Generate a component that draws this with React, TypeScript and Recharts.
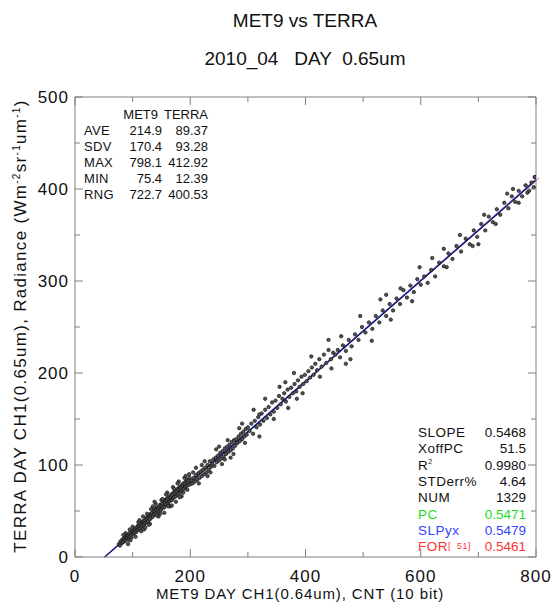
import React from 'react';
import { ScatterChart, Scatter, XAxis, YAxis, ReferenceLine } from 'recharts';

const FONT = '"Liberation Sans", Arial, Helvetica, sans-serif';

// MET9 counts (x) vs TERRA radiance (y)
const lowPts: [number, number][] = [
  [76, 14], [78, 12.4], [79, 17], [81, 15], [82, 19], [83, 16], [85, 20], [86, 17], [87, 22], [88, 18],
  [89, 21], [90, 24], [91, 20], [92, 23], [93, 19], [94, 25], [95, 22], [96, 27], [97, 24], [98, 21],
  [99, 28], [100, 25], [101, 27], [102, 30], [103, 26], [104, 29], [105, 31], [106, 27], [107, 32], [108, 29],
  [109, 34], [110, 30], [111, 33], [112, 35], [113, 31], [114, 36], [115, 33], [116, 38], [117, 34], [118, 37],
  [119, 39], [120, 35], [121, 40], [122, 37], [123, 42], [124, 38], [125, 41], [126, 44], [127, 39], [128, 43],
  [129, 46], [130, 41], [131, 45], [132, 47], [133, 43], [134, 48], [135, 44], [136, 50], [137, 46], [138, 49],
  [139, 52], [140, 47], [141, 51], [142, 54], [143, 48], [144, 53], [145, 50], [146, 55], [147, 52], [148, 57],
  [149, 51], [150, 56], [151, 53], [152, 58], [153, 55], [154, 60], [155, 54], [156, 59], [157, 62], [158, 57],
  [159, 61], [160, 64], [161, 58], [162, 63], [163, 60], [164, 66], [165, 61], [166, 65], [167, 68], [168, 62],
  [169, 67], [170, 64], [171, 70], [172, 65], [173, 69], [174, 72], [175, 66], [176, 71], [177, 68], [178, 74],
  [179, 69], [180, 73], [181, 76], [182, 70], [183, 75], [184, 72], [185, 78], [186, 73], [187, 77], [188, 80],
  [189, 74], [190, 79], [191, 76], [192, 82], [193, 77], [194, 81], [195, 84], [196, 78], [197, 83], [198, 80],
  [199, 86], [200, 79],
  [95, 30], [105, 22], [110, 38], [120, 30], [125, 47], [130, 36], [140, 58], [145, 44], [150, 62], [155, 48],
  [160, 70], [165, 55], [170, 76], [175, 60], [180, 82], [185, 66], [190, 86], [195, 73], [100, 33], [115, 28],
  [135, 55], [88, 26], [92, 14], [118, 44], [128, 35], [138, 60], [148, 47], [158, 68], [168, 56], [178, 80],
  [188, 70], [198, 90], [112, 40], [122, 32], [132, 52], [142, 45], [152, 63], [162, 55], [172, 74], [182, 65],
  [192, 88], [84, 24], [96, 18],
];

const midPts: [number, number][] = [
  [202, 83], [204, 80], [206, 86], [208, 82], [210, 89], [212, 84], [214, 91], [216, 86], [218, 93], [220, 88],
  [222, 95], [224, 90], [226, 97], [228, 92], [230, 100], [232, 95], [234, 104], [236, 98], [238, 101], [240, 106],
  [242, 99], [244, 108], [246, 103], [248, 110], [250, 105], [252, 113], [254, 107], [256, 115], [258, 109], [260, 118],
  [262, 112], [264, 120], [266, 114], [268, 122], [270, 116], [272, 125], [274, 118], [276, 127], [278, 121], [280, 128],
  [282, 124], [284, 131], [286, 126], [288, 134], [290, 128], [292, 136], [294, 131], [296, 139], [298, 133], [300, 141],
  [205, 92], [215, 80], [225, 104], [235, 92], [245, 117], [255, 101], [265, 127], [275, 112], [285, 140], [295, 124],
  [210, 97], [230, 88], [250, 120], [270, 108], [290, 145], [220, 100], [260, 106],
];

const upperPts: [number, number][] = [
  [303, 137], [306, 145], [309, 134], [312, 148], [315, 141], [318, 152], [321, 144], [324, 156], [327, 148], [330, 160],
  [333, 151], [336, 163], [339, 155], [342, 168], [345, 158], [348, 170], [351, 162], [354, 175], [357, 166], [360, 172],
  [363, 178], [366, 169], [369, 182], [372, 174], [375, 184], [378, 178], [381, 188], [384, 180], [387, 192], [390, 185],
  [393, 196], [396, 188], [399, 198], [402, 191], [405, 202], [408, 195], [411, 206], [414, 198], [417, 210], [420, 203],
  [424, 215], [428, 207], [432, 220], [436, 211], [440, 225], [444, 215], [448, 222],
  [310, 160], [320, 131], [330, 172], [345, 150], [355, 185], [370, 162], [380, 200], [395, 178], [410, 218], [425, 196],
  [440, 236], [445, 205], [320, 155], [365, 190], [385, 172],
];

const highPts: [number, number][] = [
  [452, 220], [456, 225], [460, 217], [465, 230], [470, 224], [475, 236], [480, 229], [486, 242], [492, 236], [498, 250],
  [504, 244], [510, 255], [516, 248], [522, 262], [528, 255], [534, 268], [540, 262], [546, 275], [552, 268], [558, 281],
  [564, 275], [570, 290], [576, 282], [582, 295], [588, 288], [594, 302], [600, 296],
  [462, 240], [478, 215], [495, 262], [515, 235], [530, 280], [548, 258], [565, 292], [585, 278], [598, 315], [470, 210],
  [540, 285],
  [606, 305], [612, 298], [618, 312], [625, 305], [632, 320], [640, 316], [648, 330], [655, 324], [662, 338], [670, 332],
  [678, 346], [685, 340], [692, 355], [698, 348], [705, 362], [712, 355], [718, 370], [725, 364], [732, 378], [738, 372],
  [745, 385], [752, 379], [758, 392], [764, 386], [770, 398], [776, 392], [782, 404], [788, 398], [792, 407], [796, 402],
  [798, 413], [798.1, 412.9],
  [620, 325], [645, 315], [668, 350], [690, 338], [710, 372], [730, 362], [750, 395], [770, 385], [785, 396], [760, 400],
  [640, 335], [700, 340],
];

// fit lines (endpoints)
const fitFor = [{ x: 51, y: 0 }, { x: 805, y: 411.8 }];
const fitSlpyx = [{ x: 51.5, y: 0 }, { x: 800, y: 410.1 }];
const fitSlope = [{ x: 51.5, y: 0 }, { x: 800, y: 409.3 }];

const xTicks = [0, 100, 200, 300, 400, 500, 600, 700, 800];
const yTicks = [0, 50, 100, 150, 200, 250, 300, 350, 400, 450, 500];

const statHead = ['MET9', 'TERRA'];
const statNames = ['AVE', 'SDV', 'MAX', 'MIN', 'RNG'];
const statMet9 = ['214.9', '170.4', '798.1', '75.4', '722.7'];
const statTerra = ['89.37', '93.28', '412.92', '12.39', '400.53'];

const fitNames = ['SLOPE', 'XoffPC', 'R', 'STDerr%', 'NUM', 'PC', 'SLPyx', 'FOR'];
const fitValues = ['0.5468', '51.5', '0.9980', '4.64', '1329', '0.5471', '0.5479', '0.5461'];
const fitColors = ['#111', '#111', '#111', '#111', '#111', '#22dd22', '#3344ff', '#ff3333'];

const points = [...lowPts, ...midPts, ...upperPts, ...highPts].map(([x, y]) => ({ x, y }));

const AX = '#808080';

const makeTick = (side: 'bottom' | 'top' | 'left' | 'right', major: number) => (props: any) => {
  const { x, y, payload } = props;
  const v = payload.value;
  const isMajor = v % major === 0;
  const len = isMajor ? 8 : 5;
  if (side === 'bottom') {
    return (
      <g>
        <line x1={x} y1={y} x2={x} y2={y - len} stroke={AX} />
        {isMajor && (
          <text x={x} y={y + 25} textAnchor="middle" fontSize={17} letterSpacing={1} fontFamily={FONT} fill="#111">{v}</text>
        )}
      </g>
    );
  }
  if (side === 'top') return <line x1={x} y1={y} x2={x} y2={y + len} stroke={AX} />;
  if (side === 'left') {
    return (
      <g>
        <line x1={x} y1={y} x2={x + len} y2={y} stroke={AX} />
        {isMajor && (
          <text x={x - 6} y={y + 6} textAnchor="end" fontSize={17} letterSpacing={1} fontFamily={FONT} fill="#111">{v}</text>
        )}
      </g>
    );
  }
  return <line x1={x} y1={y} x2={x - len} y2={y} stroke={AX} />;
};

const Dot = (props: any) => (
  <circle cx={props.cx} cy={props.cy} r={1.7} fill="#555" stroke="#111" strokeWidth={0.7} />
);

export default function App() {
  return (
    <div style={{ position: 'absolute', left: 0, top: 0, width: 552, height: 604, background: '#fff' }}>
      <ScatterChart width={552} height={604} margin={{ top: 96, right: 15, bottom: 46, left: 74 }}>
        <XAxis xAxisId="b" type="number" dataKey="x" domain={[0, 800]} ticks={xTicks} interval={0}
          height={1} tickSize={0} tickMargin={0} tickLine={false} axisLine={{ stroke: AX }}
          tick={makeTick('bottom', 200)} allowDataOverflow />
        <XAxis xAxisId="t" orientation="top" type="number" dataKey="x" domain={[0, 800]} ticks={xTicks} interval={0}
          height={1} tickSize={0} tickMargin={0} tickLine={false} axisLine={{ stroke: AX }}
          tick={makeTick('top', 200)} allowDataOverflow />
        <YAxis yAxisId="l" type="number" dataKey="y" domain={[0, 500]} ticks={yTicks} interval={0}
          width={1} tickSize={0} tickMargin={0} tickLine={false} axisLine={{ stroke: AX }}
          tick={makeTick('left', 100)} allowDataOverflow />
        <YAxis yAxisId="r" orientation="right" type="number" dataKey="y" domain={[0, 500]} ticks={yTicks} interval={0}
          width={1} tickSize={0} tickMargin={0} tickLine={false} axisLine={{ stroke: AX }}
          tick={makeTick('right', 100)} allowDataOverflow />
        <Scatter xAxisId="b" yAxisId="l" data={points} shape={<Dot />} isAnimationActive={false} />
        <ReferenceLine xAxisId="b" yAxisId="l" segment={fitFor} stroke="#ff5555" strokeWidth={1} ifOverflow="visible" />
        <ReferenceLine xAxisId="b" yAxisId="l" segment={fitSlpyx} stroke="#2233cc" strokeWidth={1.6} ifOverflow="visible" />
        <ReferenceLine xAxisId="b" yAxisId="l" segment={fitSlope} stroke="#111133" strokeWidth={0.9} ifOverflow="visible" />
      </ScatterChart>
      <svg width={552} height={604} style={{ position: 'absolute', left: 0, top: 0, pointerEvents: 'none' }}
        fontFamily={FONT}>
        <text x={305} y={27} textAnchor="middle" fontSize={19} fill="#111">MET9 vs TERRA</text>
        <text x={305} y={65} textAnchor="middle" fontSize={19} fill="#111" style={{ whiteSpace: 'pre' }}>
          {'2010_04   DAY  0.65um'}
        </text>
        <text x={300} y={599} textAnchor="middle" fontSize={15} letterSpacing={0.9} fill="#111">
          MET9 DAY CH1(0.64um), CNT (10 bit)
        </text>
        <text transform="translate(26,326) rotate(-90)" textAnchor="middle" fontSize={17} letterSpacing={1.3} fill="#111">
          TERRA DAY CH1(0.65um), Radiance (Wm<tspan fontSize={10} dy={-6}>-2</tspan>
          <tspan dy={6}>sr</tspan><tspan fontSize={10} dy={-6}>-1</tspan>
          <tspan dy={6}>um</tspan><tspan fontSize={10} dy={-6}>-1</tspan>
          <tspan dy={6}>)</tspan>
        </text>
        <text x={158} y={119} textAnchor="end" fontSize={13} fill="#111">{statHead[0]}</text>
        <text x={208} y={119} textAnchor="end" fontSize={13} fill="#111">{statHead[1]}</text>
        {statNames.map((n, i) => (
          <g key={n}>
            <text x={84} y={135 + i * 16} fontSize={13} letterSpacing={0.3} fill="#111">{n}</text>
            <text x={162} y={135 + i * 16} textAnchor="end" fontSize={13} fill="#111">{statMet9[i]}</text>
            <text x={208} y={135 + i * 16} textAnchor="end" fontSize={13} fill="#111">{statTerra[i]}</text>
          </g>
        ))}
        {fitNames.map((n, i) => (
          <g key={n}>
            <text x={418} y={437 + i * 16.3} fontSize={13.5} letterSpacing={0.5} fill={fitColors[i]}>
              {n}
              {n === 'R' && <tspan fontSize={7} dy={-6}>2</tspan>}
              {n === 'FOR' && <tspan fontSize={9} dy={-2} style={{ whiteSpace: 'pre' }}>{'[  51]'}</tspan>}
            </text>
            <text x={526} y={437 + i * 16.3} textAnchor="end" fontSize={13.5} fill={fitColors[i]}>{fitValues[i]}</text>
          </g>
        ))}
      </svg>
    </div>
  );
}
